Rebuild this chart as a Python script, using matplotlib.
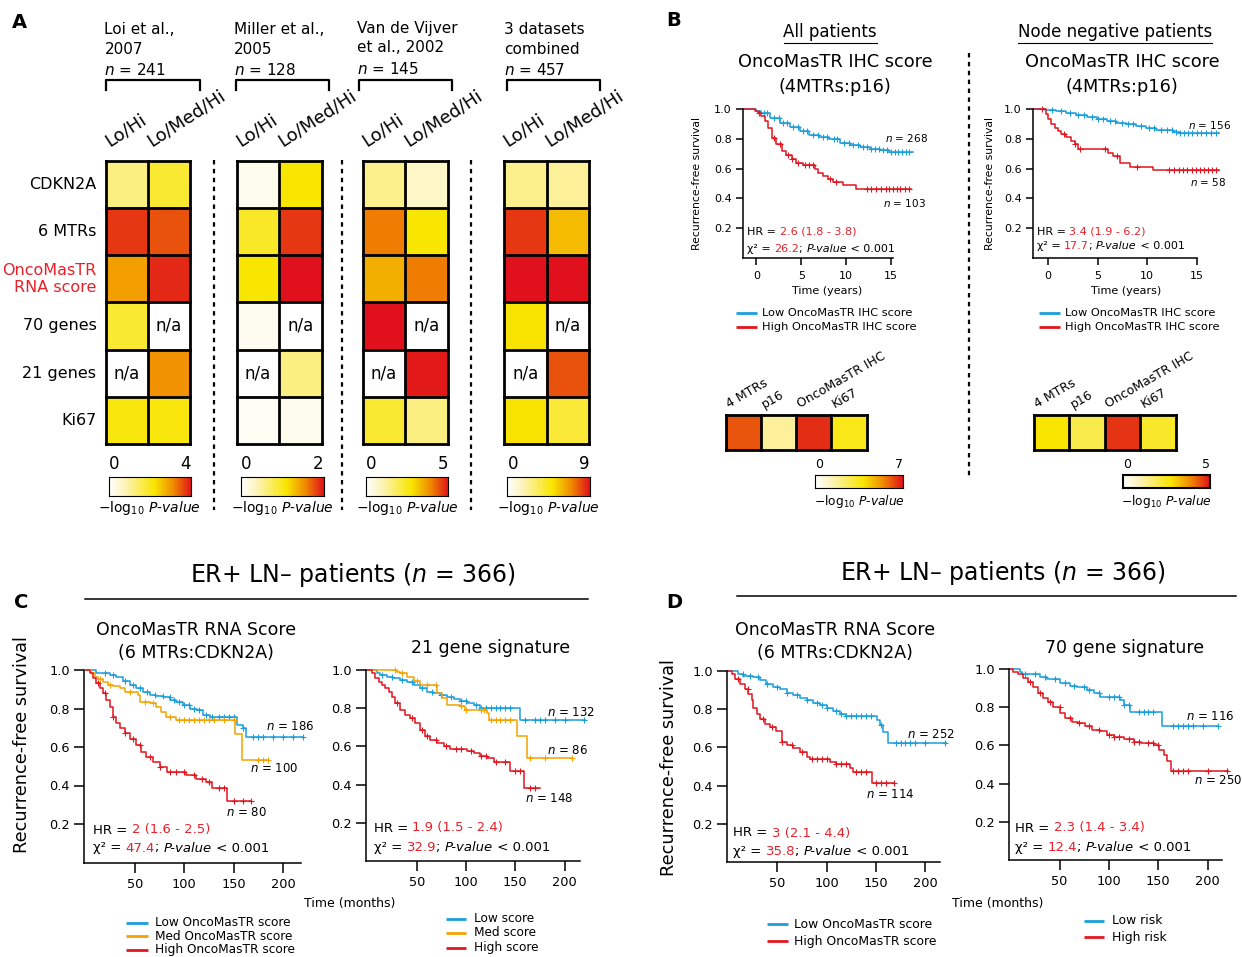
import numpy as np
import matplotlib.pyplot as plt
from matplotlib.colors import LinearSegmentedColormap

plt.rcParams['font.family'] = 'DejaVu Sans'
plt.rcParams['mathtext.fontset'] = 'dejavusans'

W, H = 1242, 957
BLUE = '#1b9fdc'
ORANGE = '#f4a300'
RED = '#e3151f'
TXTRED = '#e8202a'
nan = np.nan

# ---------------- panel A : -log10 P-values (nan = n/a)
a_rows = ['CDKN2A', '6 MTRs', 'OncoMasTR\nRNA score', '70 genes', '21 genes', 'Ki67']
a_cols = ['Lo/Hi', 'Lo/Med/Hi']
a_sets = [['Loi et al.,', '2007'], ['Miller et al.,', '2005'],
          ['Van de Vijver', 'et al., 2002'], ['3 datasets', 'combined']]
a_n = [241, 128, 145, 457]
a_vmax = [4, 2, 5, 9]
a_loi = [[1.2, 1.8], [3.7, 3.5], [2.9, 3.8], [1.8, nan], [nan, 3.0], [2.1, 2.1]]
a_miller = [[0.1, 1.1], [0.95, 1.85], [1.1, 2.0], [0.08, nan], [nan, 0.6], [0.06, 0.1]]
a_vdv = [[1.4, 0.75], [4.0, 2.75], [3.4, 4.0], [5.0, nan], [nan, 4.9], [2.25, 1.5]]
a_comb = [[2.5, 2.3], [8.3, 5.9], [9.0, 9.0], [5.0, nan], [nan, 7.9], [5.0, 4.0]]

# ---------------- panel B : heatmaps
b_markers = ['4 MTRs', 'p16', 'OncoMasTR IHC', 'Ki67']
b_all_p = [6.1, 1.75, 6.6, 3.5]
b_nn_p = [2.75, 2.0, 4.65, 2.35]
b_vmax = [7, 5]

# ---------------- panel B : KM curves (years)
b_all_low_t = [-1.5, 0.0, 0.55, 1.5, 2.6, 3.7, 4.8, 5.9, 7.0, 8.1, 9.3, 10.4, 11.5, 12.6, 13.7, 14.8, 15.9, 17.4]
b_all_low_s = [1.0, 0.985, 0.973, 0.94, 0.907, 0.88, 0.85, 0.824, 0.81, 0.796, 0.773, 0.758, 0.747, 0.733, 0.724, 0.713, 0.709, 0.709]
b_all_low_c = [0.8, 1.2, 1.9, 2.5, 3.0, 3.4, 4.1, 4.6, 5.2, 5.6, 6.3, 6.8, 7.4, 7.8, 8.6, 9.0, 9.7, 10.3,
               10.8, 11.3, 11.9, 12.3, 12.8, 13.2, 13.6, 14.1, 14.5, 15.0, 15.4, 15.8, 16.2, 16.6, 17.0]
b_all_high_t = [-1.5, -0.2, 0.2, 0.55, 0.9, 1.3, 1.7, 2.2, 2.8, 3.3, 3.9, 4.4, 5.2, 6.5, 6.85, 7.4, 8.0, 8.5, 9.6, 11.1, 17.2]
b_all_high_s = [1.0, 0.985, 0.973, 0.95, 0.918, 0.873, 0.807, 0.762, 0.718, 0.689, 0.662, 0.64, 0.622, 0.6, 0.573, 0.551, 0.529, 0.513, 0.491, 0.46, 0.46]
b_all_high_c = [0.3, 2.0, 2.6, 3.5, 4.0, 4.6, 5.4, 5.9, 6.3, 8.2, 8.9, 12.3, 12.8, 13.3, 13.9, 14.4,
                14.8, 15.2, 15.6, 16.0, 16.5, 17.0]
b_nn_low_t = [-1.5, -0.3, 0.84, 1.85, 2.86, 3.9, 4.9, 5.9, 6.9, 7.9, 8.9, 9.9, 10.9, 11.95, 12.6, 13.3, 17.2]
b_nn_low_s = [1.0, 0.992, 0.984, 0.973, 0.958, 0.944, 0.936, 0.922, 0.907, 0.896, 0.884, 0.873, 0.862, 0.856, 0.844, 0.84, 0.84]
b_nn_low_c = [0.4, 1.3, 2.2, 3.0, 3.6, 4.4, 5.0, 5.5, 6.2, 6.8, 7.5, 8.1, 8.6, 9.4, 10.2, 10.7, 11.4, 12.0,
              12.5, 12.9, 13.3, 13.7, 14.1, 14.5, 15.0, 15.4, 15.9, 16.4, 16.9]
b_nn_high_t = [-1.5, -0.24, 0.0, 0.34, 0.67, 1.0, 1.35, 1.85, 2.36, 2.7, 3.0, 6.06, 6.57, 7.24, 8.25, 10.6, 17.2]
b_nn_high_s = [1.0, 0.967, 0.936, 0.9, 0.873, 0.85, 0.833, 0.81, 0.784, 0.762, 0.729, 0.707, 0.684, 0.64, 0.613, 0.589, 0.589]
b_nn_high_c = [-0.6, 1.6, 2.7, 3.2, 5.7, 7.0, 9.0, 12.2, 12.7, 13.2, 13.6, 14.0, 14.5, 14.9, 15.3, 15.7, 16.1, 16.5, 16.9]

# ---------------- panel C : KM curves (months)
c_rna_low_t = [0, 10.8, 24.4, 31, 38, 44.7, 51.4, 58, 65, 71.7, 78.5, 85.3, 92, 98.8, 105.6, 112.4, 119, 126, 153, 159.7, 163, 220.6]
c_rna_low_s = [1.0, 0.983, 0.974, 0.965, 0.943, 0.922, 0.905, 0.887, 0.87, 0.867, 0.858, 0.844, 0.835, 0.818, 0.8, 0.792, 0.766, 0.758, 0.714, 0.7, 0.654, 0.654]
c_rna_low_c = [20, 28, 40, 48, 55, 62, 70, 78, 85, 90, 95, 100, 105, 110, 115, 122, 128, 135, 140, 145, 150,
               160, 170, 175, 180, 190, 200, 210, 220]
c_rna_med_t = [0, 5.8, 9, 12.5, 17.6, 22.7, 27.7, 34.5, 39.6, 48, 53, 54.8, 65, 71.7, 76.8, 81.9, 92, 151, 158, 185]
c_rna_med_s = [1.0, 0.983, 0.965, 0.953, 0.94, 0.922, 0.919, 0.905, 0.887, 0.884, 0.87, 0.835, 0.827, 0.81, 0.784, 0.758, 0.74, 0.666, 0.532, 0.532]
c_rna_med_c = [15, 25, 45, 60, 68, 85, 95, 100, 105, 110, 115, 120, 125, 130, 140, 150, 175, 180, 185]
c_rna_high_t = [0, 4, 7.4, 10.8, 14.2, 17.6, 20.9, 24.4, 27.8, 31, 34.5, 39.6, 44.7, 51.4, 56.5, 61.6, 68.4, 75, 82,
                102, 112, 122, 127.6, 142.8, 168]
c_rna_high_s = [1.0, 0.983, 0.957, 0.93, 0.905, 0.879, 0.844, 0.81, 0.758, 0.723, 0.697, 0.671, 0.642, 0.61, 0.576,
                0.55, 0.524, 0.498, 0.472, 0.455, 0.434, 0.42, 0.385, 0.32, 0.32]
c_rna_high_c = [12, 20, 28, 40, 48, 55, 65, 75, 85, 92, 100, 110, 118, 125, 135, 140, 150, 160, 168]

c_21_low_t = [0, 9.5, 12.9, 19.7, 26.4, 33.2, 40, 46.8, 53.6, 60.3, 67, 74, 80.7, 87.5, 94, 101, 107.8, 114.6, 155, 221]
c_21_low_s = [1.0, 0.983, 0.974, 0.965, 0.957, 0.948, 0.936, 0.919, 0.905, 0.887, 0.879, 0.87, 0.858, 0.848, 0.839, 0.827, 0.818, 0.8, 0.74, 0.74]
c_21_low_c = [15, 25, 35, 45, 55, 65, 75, 85, 95, 100, 110, 115, 120, 125, 130, 135, 140, 145, 160, 170,
              175, 180, 190, 200, 220]
c_21_med_t = [0, 30, 33, 40, 46.8, 53.6, 71, 75.6, 80.7, 94, 99, 121, 123, 152, 162, 208]
c_21_med_s = [1.0, 0.991, 0.983, 0.965, 0.94, 0.919, 0.879, 0.853, 0.818, 0.81, 0.792, 0.775, 0.74, 0.654, 0.538, 0.538]
c_21_med_c = [28, 35, 50, 60, 70, 95, 100, 115, 118, 125, 130, 135, 140, 145, 165, 180, 208]
c_21_high_t = [0, 4.4, 7.8, 11.2, 14.6, 18, 21.4, 24.7, 28, 33, 38, 43, 48.5, 53.6, 58.6, 63.7, 70.5, 77.3, 84, 94,
               101, 107.8, 114.6, 121, 128, 145, 158.6, 175.6]
c_21_high_s = [1.0, 0.983, 0.957, 0.936, 0.919, 0.905, 0.887, 0.861, 0.827, 0.792, 0.766, 0.749, 0.723, 0.688, 0.654,
               0.631, 0.619, 0.602, 0.589, 0.584, 0.576, 0.564, 0.55, 0.538, 0.52, 0.472, 0.382, 0.382]
c_21_high_c = [30, 45, 55, 60, 70, 80, 90, 95, 105, 115, 120, 130, 140, 150, 155, 165, 170]

# ---------------- panel D : KM curves (months)
d_rna_low_t = [0, 10.5, 15.5, 25.7, 32.4, 39, 46, 52.7, 59.5, 66, 73, 79.7, 86.5, 93, 100, 106.8, 113.5, 120,
               150.7, 154, 157.4, 162.5, 221]
d_rna_low_s = [1.0, 0.986, 0.974, 0.969, 0.951, 0.934, 0.917, 0.904, 0.887, 0.873, 0.861, 0.847, 0.835, 0.821, 0.804,
               0.791, 0.777, 0.765, 0.743, 0.716, 0.682, 0.621, 0.621]
d_rna_low_c = [15, 22, 30, 40, 50, 60, 70, 80, 90, 95, 100, 110, 115, 120, 125, 130, 135, 140, 145, 155, 170,
               175, 180, 185, 190, 200, 220]
d_rna_high_t = [0, 3.7, 7.1, 12.2, 17.2, 20.6, 24, 25.7, 29, 32.4, 37.5, 42.6, 49, 54.4, 59.5, 66, 73, 79.7, 83,
                103.4, 110, 123.6, 127, 145.6, 168]
d_rna_high_s = [1.0, 0.986, 0.96, 0.934, 0.908, 0.882, 0.847, 0.804, 0.777, 0.751, 0.725, 0.708, 0.685, 0.626, 0.612,
                0.595, 0.577, 0.551, 0.539, 0.525, 0.511, 0.49, 0.47, 0.412, 0.412]
d_rna_high_c = [10, 20, 35, 45, 55, 65, 75, 85, 90, 95, 100, 110, 115, 120, 130, 135, 140, 150, 155, 160, 168]

d_70_low_t = [0, 9.8, 11.5, 30, 37, 50.5, 60.7, 67.5, 77.6, 84.4, 91, 111.5, 114.9, 121.7, 154, 210]
d_70_low_s = [1.0, 0.986, 0.972, 0.96, 0.948, 0.925, 0.913, 0.904, 0.89, 0.873, 0.856, 0.838, 0.812, 0.774, 0.704, 0.704]
d_70_low_c = [15, 25, 35, 45, 55, 65, 75, 80, 90, 100, 105, 110, 115, 120, 130, 135, 140, 145, 165, 170,
              175, 180, 185, 195, 210]
d_70_high_t = [0, 3, 8, 13.2, 18.3, 23.4, 28.5, 33.6, 38.6, 43.7, 50.5, 55.6, 62.4, 69, 76, 82.7, 91, 98, 104.7,
               115, 125, 132, 145.4, 150.5, 155.6, 159, 162.4, 220.7]
d_70_high_s = [1.0, 0.986, 0.972, 0.951, 0.934, 0.908, 0.873, 0.847, 0.826, 0.803, 0.769, 0.743, 0.725, 0.717, 0.699,
               0.682, 0.673, 0.656, 0.642, 0.635, 0.617, 0.612, 0.6, 0.577, 0.551, 0.517, 0.468, 0.468]
d_70_high_c = [20, 30, 40, 50, 60, 70, 80, 90, 100, 105, 110, 120, 125, 130, 140, 145, 150, 165, 170, 175,
               180, 200, 220]

LOGP = r'$-$log$_{10}$ $\mathit{P}$-$\mathit{value}$'

cmap = LinearSegmentedColormap.from_list(
    'wyr', [(0, '#ffffff'), (0.2, '#fdf3b5'), (0.55, '#f9e600'), (0.78, '#f08800'), (1, '#e0101c')])
cmap.set_bad('white')

fig = plt.figure(figsize=(W / 100, H / 100), dpi=100)
# overlay axes in pixel coordinates for labels / rules
ov = fig.add_axes([0, 0, 1, 1])
ov.set_xlim(0, W)
ov.set_ylim(H, 0)
ov.axis('off')
ov.set_zorder(10)


def box(l, t, r, b):
    ax = fig.add_axes([l / W, 1 - b / H, (r - l) / W, (b - t) / H])
    ax.patch.set_alpha(0)
    return ax


def heat(l, t, r, b, vals, vmax, nafs=12):
    ax = box(l, t, r, b)
    arr = np.ma.masked_invalid(np.array(vals, dtype=float))
    nr, nc = arr.shape
    ax.imshow(arr, cmap=cmap, vmin=0, vmax=vmax, aspect='auto',
              interpolation='nearest', extent=(0, nc, nr, 0))
    for i in range(nr + 1):
        ax.axhline(i, color='k', lw=2, clip_on=False)
    for j in range(nc + 1):
        ax.axvline(j, color='k', lw=2, clip_on=False)
    for i in range(nr):
        for j in range(nc):
            if arr.mask[i, j]:
                ax.text(j + 0.5, i + 0.5, 'n/a', ha='center', va='center', fontsize=nafs)
    ax.set_xlim(0, nc)
    ax.set_ylim(nr, 0)
    ax.axis('off')
    return ax


def cbar(l, t, r, b, vmax, tick_y, lab_y, fs_tick, fs_lab, lw=0.8):
    cax = box(l, t, r, b)
    cax.imshow(np.linspace(0, vmax, 256)[None, :], cmap=cmap, vmin=0, vmax=vmax,
               aspect='auto', extent=(0, vmax, 0, 1))
    cax.set_xticks([])
    cax.set_yticks([])
    for sp in cax.spines.values():
        sp.set_linewidth(lw)
    ov.text(l, tick_y, '0', ha='left', va='center', fontsize=fs_tick)
    ov.text(r, tick_y, str(vmax), ha='right', va='center', fontsize=fs_tick)
    ov.text((l + r) / 2, lab_y, LOGP, ha='center', va='center', fontsize=fs_lab)


def km(l, t, r, b, xlim, xticks, curves, fs, tlen):
    ax = box(l, t, r, b)
    for tt, ss, cens, col in curves:
        ax.plot(tt, ss, drawstyle='steps-post', color=col, lw=1.1, clip_on=False)
        idx = np.searchsorted(tt, cens, side='right') - 1
        ax.plot(cens, np.asarray(ss)[idx], ls='none', marker='+', ms=4, mew=0.8,
                color=col, clip_on=False)
    ax.set_xlim(xlim)
    ax.set_ylim(0, 1)
    ax.set_xticks(xticks)
    ax.set_yticks([0.2, 0.4, 0.6, 0.8, 1.0])
    ax.set_yticklabels(['0.2', '0.4', '0.6', '0.8', '1.0'])
    ax.spines[['top', 'right']].set_visible(False)
    for sp in ('left', 'bottom'):
        ax.spines[sp].set_linewidth(1.1)
    ax.tick_params(labelsize=fs, length=tlen, width=1.1, pad=3)
    ax.tick_params(axis='x', pad=4)
    return ax


def stats(x, y1, y2, hr, chi, fs):
    t = ov.text(x, y1, 'HR = ', fontsize=fs, va='center')
    ov.annotate(hr, xy=(1, 0), xycoords=t, va='bottom', ha='left', color=TXTRED, fontsize=fs)
    prev = ov.text(x, y2, 'χ² = ', fontsize=fs, va='center')
    for s, col, sty in [(chi, TXTRED, 'normal'), ('; ', 'k', 'normal'),
                        ('P-value', 'k', 'italic'), (' < 0.001', 'k', 'normal')]:
        prev = ov.annotate(s, xy=(1, 0), xycoords=prev, va='bottom', ha='left',
                           color=col, fontsize=fs, fontstyle=sty)


def nlab(x, y, n, fs):
    ov.text(x, y, r'$\mathit{n}$ = %d' % n, fontsize=fs, va='center', ha='left')


def legend_rows(x0, x1, xt, ys, labels, colors, fs):
    for y, lab, c in zip(ys, labels, colors):
        ov.plot([x0, x1], [y, y], color=c, lw=2, solid_capstyle='butt')
        ov.text(xt, y, lab, fontsize=fs, va='center', ha='left')


def dotted(x, y0, y1):
    ov.plot([x, x], [y0, y1], color='k', lw=1.6, ls=(0, (2, 2)))


# ======================= PANEL A
ov.text(12, 22, 'A', fontsize=14, fontweight='bold', va='center')
a_vals = [a_loi, a_miller, a_vdv, a_comb]
a_x = [(105.7, 190.2), (236.9, 321.7), (362.7, 447.5), (504, 589)]
a_cb = [(108.6, 191), (241, 323.8), (366, 448), (507.4, 590)]
a_br = [(105.7, 199.6), (236, 329), (359.4, 451.6), (507.4, 600.4)]
a_hx = [104.5, 234, 357.4, 504]
for k in range(4):
    ax = heat(a_x[k][0], 160.7, a_x[k][1], 444, a_vals[k], a_vmax[k])
    for j, c in enumerate(a_cols):
        ax.text(j + 0.08, -0.29, c, rotation=33, rotation_mode='anchor', ha='left',
                va='baseline', fontsize=13, clip_on=False)
    if k == 0:
        for i, r in enumerate(a_rows):
            ax.text(-0.22, i + 0.5, r, ha='right', va='center', fontsize=11.5,
                    color=TXTRED if 'Onco' in r else 'k', linespacing=1.15)
    cbar(a_cb[k][0], 477, a_cb[k][1], 496, a_vmax[k], 464, 508, 12, 10)
    yy = [28, 48, 69] if k == 2 else [30, 50, 70]
    ov.text(a_hx[k], yy[0], a_sets[k][0], fontsize=11, va='center')
    ov.text(a_hx[k], yy[1], a_sets[k][1], fontsize=11, va='center')
    ov.text(a_hx[k], yy[2], r'$\mathit{n}$ = %d' % a_n[k], fontsize=11, va='center')
    x0, x1 = a_br[k]
    ov.plot([x0, x0, x1, x1], [90, 80, 80, 90], color='k', lw=1.6)
for x in [214, 342.2, 470.5]:
    dotted(x, 160, 510)

# ======================= PANEL B
ov.text(666, 21, 'B', fontsize=14, fontweight='bold', va='center')
for cx, head, (u0, u1) in [(830, 'All patients', (783.6, 876.5)),
                           (1114.7, 'Node negative patients', (1017.7, 1211.7))]:
    ov.text(cx, 32, head, fontsize=12, ha='center', va='center')
    ov.plot([u0, u1], [42.5, 42.5], color='k', lw=0.8)
for cx in [835, 1122]:
    ov.text(cx, 62, 'OncoMasTR IHC score', fontsize=12.8, ha='center', va='center')
    ov.text(cx, 87, '(4MTRs:p16)', fontsize=12.8, ha='center', va='center')
dotted(969, 53, 477)

km(743, 109, 893, 258, (-1.5, 15.2), [0, 5, 10, 15],
   [(b_all_low_t, b_all_low_s, b_all_low_c, BLUE),
    (b_all_high_t, b_all_high_s, b_all_high_c, RED)], 8, 5)
km(1033, 109, 1197, 258, (-1.5, 15.0), [0, 5, 10, 15],
   [(b_nn_low_t, b_nn_low_s, b_nn_low_c, BLUE),
    (b_nn_high_t, b_nn_high_s, b_nn_high_c, RED)], 8, 5)
for x, cx in [(697, 827), (989.6, 1126)]:
    ov.text(x, 183.5, 'Recurrence-free survival', rotation=90, fontsize=7.8, ha='center', va='center')
    ov.text(cx, 291, 'Time (years)', fontsize=8, ha='center', va='center')
stats(747, 232, 249, '2.6 (1.8 - 3.8)', '26.2', 8)
stats(1036.7, 231.7, 245.7, '3.4 (1.9 - 6.2)', '17.7', 8)
nlab(885, 138, 268, 7.5)
nlab(883, 203, 103, 7.5)
nlab(1188, 125, 156, 7.5)
nlab(1190, 181.7, 58, 7.5)
legend_rows(736, 757, 762, [313, 327], ['Low OncoMasTR IHC score', 'High OncoMasTR IHC score'],
            [BLUE, RED], 8.2)
legend_rows(1039, 1060, 1065, [313, 327], ['Low OncoMasTR IHC score', 'High OncoMasTR IHC score'],
            [BLUE, RED], 8.2)

for (l, r), vals, vmax, (cl, cr) in [((725.5, 866.7), b_all_p, b_vmax[0], (815.4, 902.7)),
                                     ((1033.8, 1176), b_nn_p, b_vmax[1], (1123, 1210))]:
    ax = heat(l, 415, r, 450, [vals], vmax)
    for j, m in enumerate(b_markers):
        ax.text(j + 0.1, -0.2, m, rotation=30, rotation_mode='anchor', ha='left',
                va='baseline', fontsize=9, clip_on=False)
    cbar(cl, 475, cr, 488, vmax, 465, 502, 9, 8.8, lw=0.8 if vmax == 7 else 1.5)

# ======================= PANELS C and D
ov.text(14, 602, 'C', fontsize=14, fontweight='bold', va='center')
ov.text(666, 602, 'D', fontsize=14, fontweight='bold', va='center')
for cx, y, (r0, r1), ry in [(353, 575, (85, 588), 599), (1003, 573, (736.5, 1236), 596)]:
    ov.text(cx, y, r'ER+ LN– patients ($\mathit{n}$ = 366)', fontsize=17, ha='center', va='center')
    ov.plot([r0, r1], [ry, ry], color='k', lw=1.1)
for cx in [196, 835]:
    ov.text(cx, 630, 'OncoMasTR RNA Score', fontsize=12.5, ha='center', va='center')
    ov.text(cx, 653, '(6 MTRs:CDKN2A)', fontsize=12.5, ha='center', va='center')
ov.text(491, 648, '21 gene signature', fontsize=12.5, ha='center', va='center')
ov.text(1124.6, 648, '70 gene signature', fontsize=12.5, ha='center', va='center')
ov.text(22, 745, 'Recurrence-free survival', rotation=90, fontsize=12.7, ha='center', va='center')
ov.text(669, 767.5, 'Recurrence-free survival', rotation=90, fontsize=12.7, ha='center', va='center')
ov.text(350, 903, 'Time (months)', fontsize=9, ha='center', va='center')
ov.text(998, 903, 'Time (months)', fontsize=9, ha='center', va='center')

mt = [50, 100, 150, 200]
km(84, 670, 301, 862.5, (-1.7, 218.3), mt,
   [(c_rna_low_t, c_rna_low_s, c_rna_low_c, BLUE),
    (c_rna_med_t, c_rna_med_s, c_rna_med_c, ORANGE),
    (c_rna_high_t, c_rna_high_s, c_rna_high_c, RED)], 9.3, 7)
km(366, 670, 580, 861, (-1.5, 215.7), mt,
   [(c_21_low_t, c_21_low_s, c_21_low_c, BLUE),
    (c_21_med_t, c_21_med_s, c_21_med_c, ORANGE),
    (c_21_high_t, c_21_high_s, c_21_high_c, RED)], 9.3, 7)
km(727, 671, 940, 862, (-1, 215), mt,
   [(d_rna_low_t, d_rna_low_s, d_rna_low_c, BLUE),
    (d_rna_high_t, d_rna_high_s, d_rna_high_c, RED)], 9.3, 7)
km(1009, 669, 1222, 860, (-1.3, 214.5), mt,
   [(d_70_low_t, d_70_low_s, d_70_low_c, BLUE),
    (d_70_high_t, d_70_high_s, d_70_high_c, RED)], 9.3, 7)

stats(93.3, 830, 848, '2 (1.6 - 2.5)', '47.4', 9.5)
stats(374, 828, 847.7, '1.9 (1.5 - 2.4)', '32.9', 9.5)
stats(733, 833, 851.7, '3 (2.1 - 4.4)', '35.8', 9.5)
stats(1015, 828, 847.7, '2.3 (1.4 - 3.4)', '12.4', 9.5)

nlab(266, 727, 186, 8.5)
nlab(250, 768, 100, 8.5)
nlab(226, 812, 80, 8.5)
nlab(547, 712, 132, 8.5)
nlab(547, 750, 86, 8.5)
nlab(525, 799, 148, 8.5)
nlab(907, 735, 252, 8.5)
nlab(866, 794, 114, 8.5)
nlab(1186, 717, 116, 8.5)
nlab(1194, 781, 250, 8.5)

legend_rows(126, 148, 155, [923, 936, 950],
            ['Low OncoMasTR score', 'Med OncoMasTR score', 'High OncoMasTR score'],
            [BLUE, ORANGE, RED], 8.7)
legend_rows(446, 466, 474, [919, 933, 948], ['Low score', 'Med score', 'High score'],
            [BLUE, ORANGE, RED], 8.7)
legend_rows(767, 788, 794, [924, 941], ['Low OncoMasTR score', 'High OncoMasTR score'],
            [BLUE, RED], 8.9)
legend_rows(1084, 1104, 1112, [921, 937], ['Low risk', 'High risk'], [BLUE, RED], 8.9)

fig.savefig('out.png', dpi=100)
